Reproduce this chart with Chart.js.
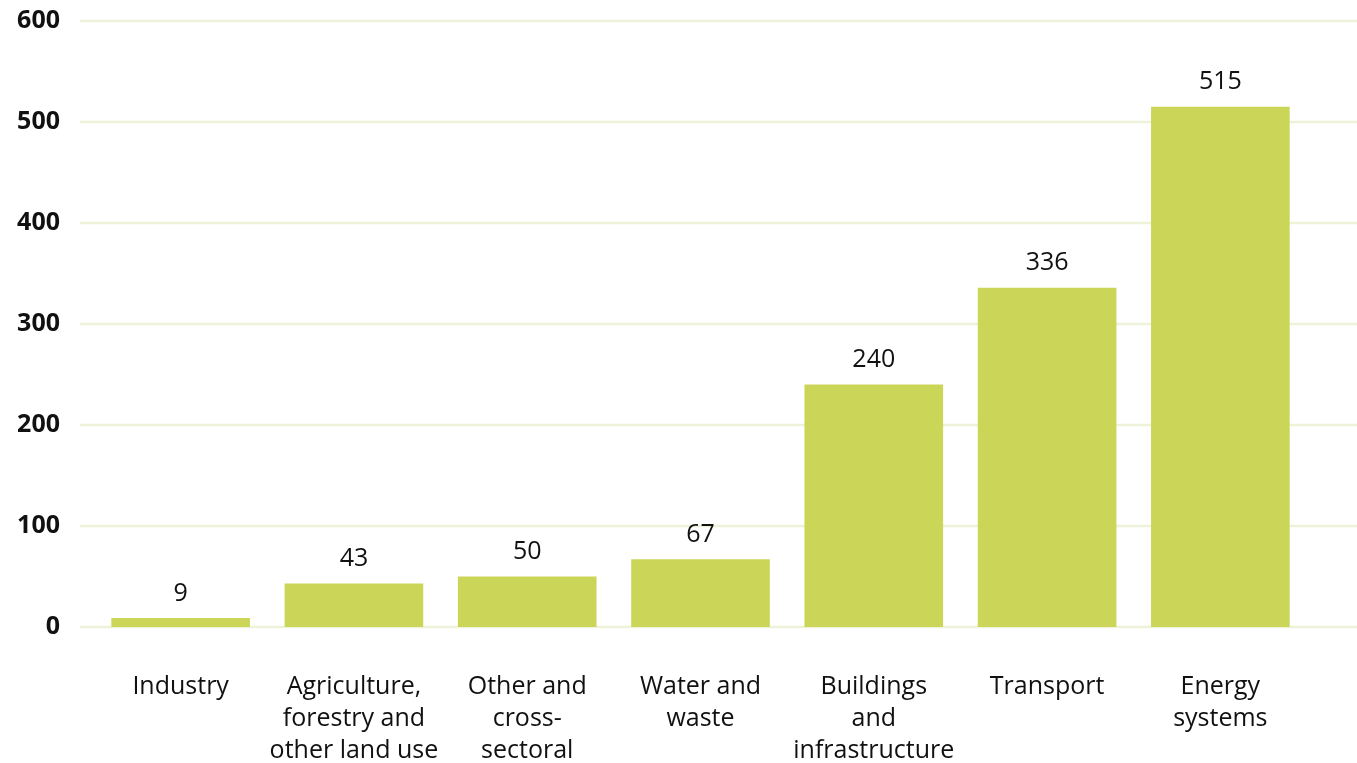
<!DOCTYPE html>
<html>
<head>
<meta charset="utf-8">
<script src="https://cdn.jsdelivr.net/npm/chart.js@4/dist/chart.umd.min.js"></script>
<style>
  html, body { margin: 0; padding: 0; background: #ffffff; }
  #wrap { width: 1357px; height: 763px; }
</style>
</head>
<body>
<div id="wrap"><canvas id="sectorChart" width="1357" height="763"></canvas></div>
<script>
// categories (multi-line labels as shown under each bar)
const categories = [
    ['Industry'],
    ['Agriculture,', 'forestry and', 'other land use'],
    ['Other and', 'cross-', 'sectoral'],
    ['Water and', 'waste'],
    ['Buildings', 'and', 'infrastructure'],
    ['Transport'],
    ['Energy', 'systems']
];
const values = [9, 43, 50, 67, 240, 336, 515];
const yTicks = [0, 100, 200, 300, 400, 500, 600];

const barColor = '#cbd658';
const gridColor = '#eef2d9';
const fontFamily = "'Open Sans', 'Noto Sans', sans-serif";

// gridlines drawn across the whole width (they run past the plot area in the original)
const fullGrid = {
    id: 'fullGrid',
    beforeDatasetsDraw(chart) {
        const ctx = chart.ctx;
        const y = chart.scales.y;
        ctx.save();
        ctx.strokeStyle = gridColor;
        ctx.lineWidth = 2.5;
        y.ticks.forEach(t => {
            const py = y.getPixelForValue(t.value);
            ctx.beginPath();
            ctx.moveTo(80, py);
            ctx.lineTo(chart.width, py);
            ctx.stroke();
        });
        ctx.restore();
    }
};

// value labels above each bar
const valueLabels = {
    id: 'valueLabels',
    afterDatasetsDraw(chart) {
        const ctx = chart.ctx;
        const meta = chart.getDatasetMeta(0);
        ctx.save();
        ctx.fillStyle = '#111111';
        ctx.font = '25px ' + fontFamily;
        ctx.textAlign = 'center';
        ctx.textBaseline = 'bottom';
        meta.data.forEach((bar, i) => {
            ctx.fillText(String(values[i]), bar.x, bar.y - 12);
        });
        ctx.restore();
    }
};

const ctx = document.getElementById('sectorChart').getContext('2d');
new Chart(ctx, {
    type: 'bar',
    data: {
        labels: categories,
        datasets: [{
            data: values,
            backgroundColor: barColor,
            borderWidth: 0,
            categoryPercentage: 1.0,
            barPercentage: 0.8
        }]
    },
    options: {
        responsive: false,
        animation: false,
        layout: { padding: { top: 21, right: 50, bottom: 0, left: 0 } },
        plugins: {
            legend: { display: false },
            tooltip: { enabled: false }
        },
        scales: {
            x: {
                grid: { display: false, drawTicks: false },
                border: { display: false },
                afterFit(scale) {
                    scale.height = 136;
                    scale.paddingLeft = 0;
                    scale.paddingRight = 0;
                },
                ticks: {
                    color: '#111111',
                    font: { family: fontFamily, size: 25, lineHeight: 1.28 },
                    padding: 44,
                    maxRotation: 0,
                    autoSkip: false
                }
            },
            y: {
                min: 0,
                max: 600,
                afterBuildTicks(scale) {
                    scale.ticks = yTicks.map(v => ({ value: v }));
                },
                afterFit(scale) {
                    scale.width = 94;
                    scale.paddingTop = 0;
                    scale.paddingBottom = 0;
                },
                grid: { display: false, drawTicks: false },
                border: { display: false },
                ticks: {
                    color: '#111111',
                    font: { family: fontFamily, size: 25, weight: 'bold' },
                    padding: 34
                }
            }
        }
    },
    plugins: [fullGrid, valueLabels]
});
</script>
</body>
</html>
